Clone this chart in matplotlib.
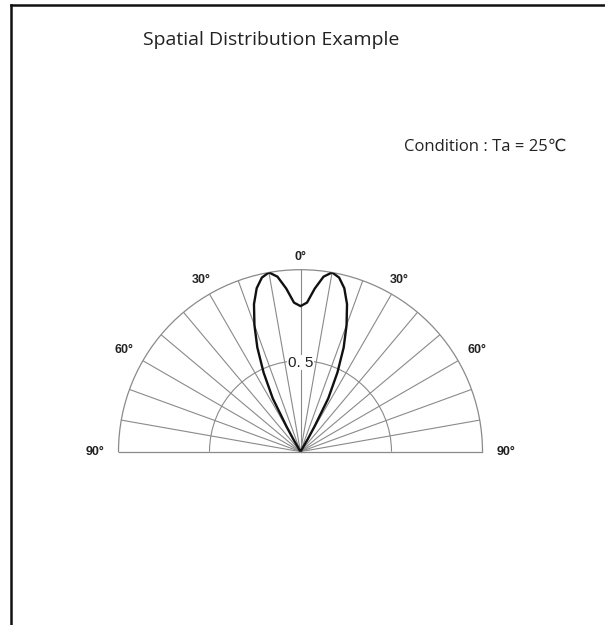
import numpy as np
import matplotlib
matplotlib.use("Agg")
import matplotlib.pyplot as plt
from matplotlib.lines import Line2D

# ------------------------------
# Data
# ------------------------------

# angle from the optical axis (deg) and relative intensity
angles = [-31, -30, -29, -27.5, -25, -22.5, -20, -17.5, -15, -12.5, -10, -7.5, -5, -2.5,
          0, 2.5, 5, 7.5, 10, 12.5, 15, 17.5, 20, 22.5, 25, 27.5, 29, 30, 31]
intensity = [0.0, 0.08, 0.16, 0.33, 0.48, 0.62, 0.74, 0.85, 0.93, 0.98, 1.0, 0.97, 0.90, 0.82,
             0.80, 0.82, 0.90, 0.97, 1.0, 0.98, 0.93, 0.85, 0.74, 0.62, 0.48, 0.33, 0.16, 0.08, 0.0]

# angle labels round the arc
label_angles = [-90, -60, -30, 0, 30, 60, 90]
label_texts = ["90°", "60°", "30°", "0°", "30°", "60°", "90°"]
label_radii = [1.13, 1.12, 1.09, 1.07, 1.09, 1.12, 1.13]

title = "Spatial Distribution Example"
condition = "Condition : Ta = 25℃"

# ------------------------------
# Figure
# ------------------------------

fig = plt.figure(figsize=(6.05, 6.25), dpi=100)
fig.patch.set_facecolor("white")

# frame lines (left and top)
fig.add_artist(Line2D([11 / 605, 11 / 605], [0, 1 - 5 / 625], color="#111111", lw=1.8))
fig.add_artist(Line2D([11 / 605, 1], [1 - 5 / 625, 1 - 5 / 625], color="#111111", lw=1.8))

fig.text(271 / 605, 1 - 40 / 625, title, ha="center", va="center",
         fontsize=14, family=["Open Sans", "DejaVu Sans"], color="#222222")
fig.text(566 / 605, 1 - 147 / 625, condition, ha="right", va="center",
         fontsize=12, family=["Open Sans", "DejaVu Sans"], color="#222222")

# polar half-plot: square box, the half disc sits in its middle
ax = fig.add_axes([118.5 / 605, 82.3 / 625, 364 / 605, 364 / 625], projection="polar")
ax.set_theta_zero_location("N")
ax.set_theta_direction(-1)
ax.set_thetamin(-90)
ax.set_thetamax(90)
ax.set_ylim(0, 1.0)

grid_col = "#8a8a8a"
ax.set_thetagrids(np.arange(-80, 81, 10), labels=[""] * 17)
ax.set_rgrids([0.5], labels=[""])
ax.grid(True, color=grid_col, lw=0.8)
for sp in ax.spines.values():
    sp.set_color(grid_col)
    sp.set_linewidth(0.9)
ax.tick_params(length=0)

ax.plot(np.deg2rad(angles), intensity, color="#111111", lw=1.7, zorder=5)

for a, s, r in zip(label_angles, label_texts, label_radii):
    ax.text(np.deg2rad(a), r, s, ha="center", va="center", fontsize=9,
            family="Liberation Sans", fontweight="bold", color="#222222", clip_on=False)

ax.text(0, 0.49, "0. 5", ha="center", va="center", fontsize=11,
        family="Liberation Sans", color="#222222", zorder=6,
        bbox=dict(facecolor="white", edgecolor="none", pad=0.5))

fig.savefig("out.png", dpi=100)
